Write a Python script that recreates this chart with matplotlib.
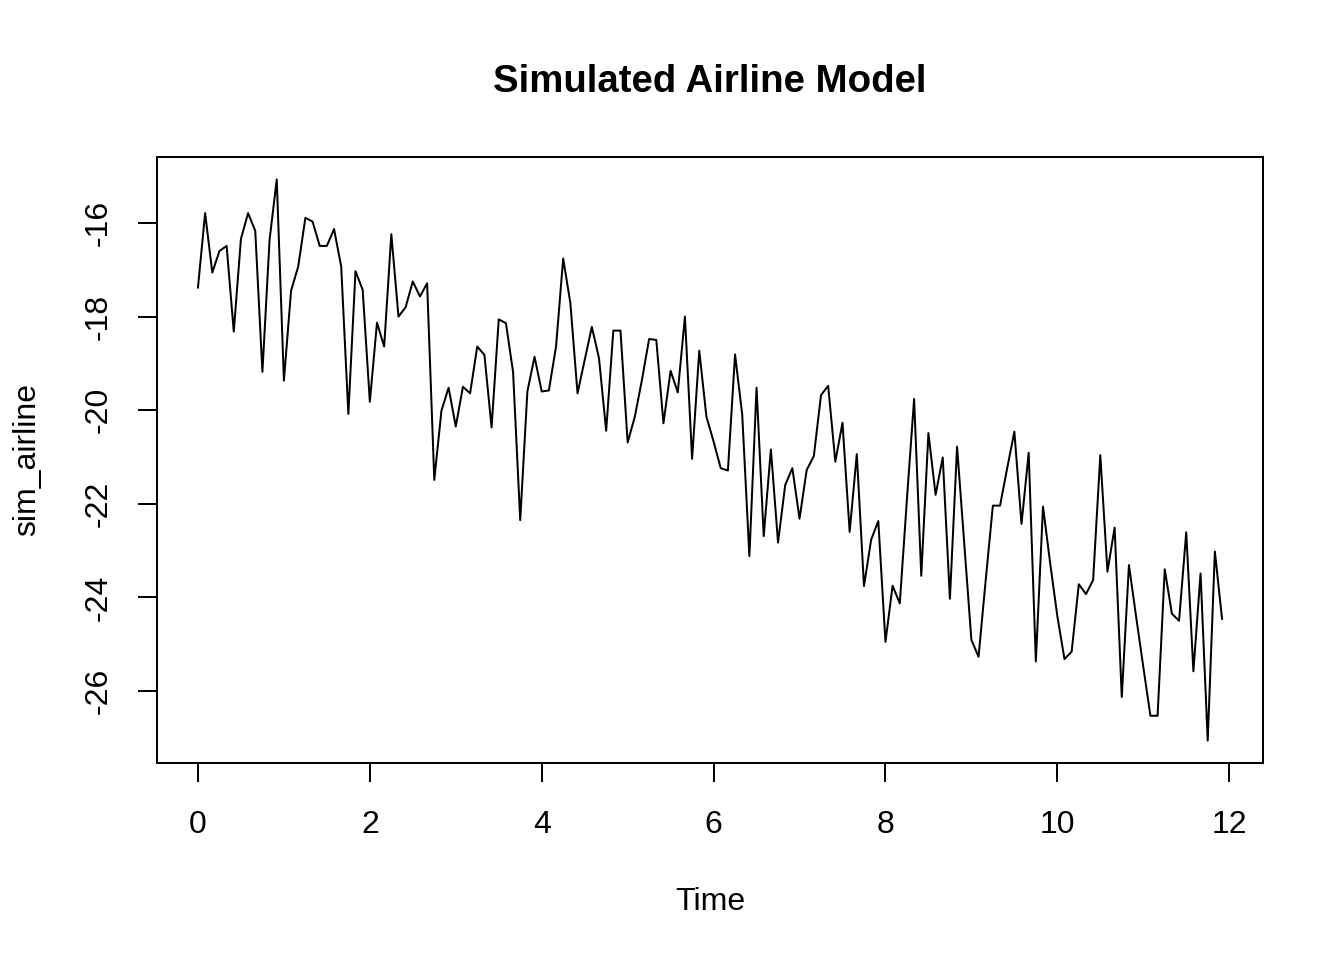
import numpy as np
import matplotlib
matplotlib.use("Agg")
import matplotlib.pyplot as plt

# monthly series, start = 0, frequency = 12
start_time = 0
frequency = 12
sim_airline = [
    -17.38, -15.79, -17.06, -16.60, -16.49, -18.32, -16.34, -15.79, -16.17, -19.18, -16.36, -15.07,
    -19.37, -17.45, -16.93, -15.89, -15.97, -16.49, -16.49, -16.13, -16.93, -20.08, -17.03, -17.43,
    -19.82, -18.13, -18.64, -16.24, -18.00, -17.80, -17.25, -17.57, -17.29, -21.49, -20.01, -19.52,
    -20.35, -19.50, -19.64, -18.64, -18.82, -20.37, -18.06, -18.14, -19.18, -22.35, -19.60, -18.86,
    -19.60, -19.58, -18.64, -16.76, -17.71, -19.64, -18.93, -18.22, -18.89, -20.44, -18.30, -18.30,
    -20.69, -20.14, -19.35, -18.48, -18.50, -20.28, -19.16, -19.62, -18.00, -21.04, -18.73, -20.14,
    -20.67, -21.24, -21.29, -18.81, -20.10, -23.12, -19.52, -22.69, -20.84, -22.83, -21.60, -21.24,
    -22.32, -21.28, -20.98, -19.68, -19.48, -21.10, -20.27, -22.60, -20.94, -23.76, -22.77, -22.37,
    -24.95, -23.75, -24.13, -21.90, -19.76, -23.54, -20.49, -21.81, -21.01, -24.03, -20.78, -22.85,
    -24.91, -25.27, -23.63, -22.04, -22.04, -21.24, -20.46, -22.43, -20.91, -25.37, -22.06, -23.27,
    -24.40, -25.32, -25.16, -23.72, -23.93, -23.63, -20.96, -23.45, -22.51, -26.13, -23.31, -24.41,
    -25.48, -26.53, -26.53, -23.40, -24.35, -24.50, -22.61, -25.58, -23.49, -27.06, -23.02, -24.46,
]
x_ticks = [0, 2, 4, 6, 8, 10, 12]
y_ticks = [-26, -24, -22, -20, -18, -16]

values = np.array(sim_airline)
time = start_time + np.arange(len(values)) / frequency

plt.rcParams['font.family'] = ['Liberation Sans', 'DejaVu Sans']

fig = plt.figure(figsize=(7, 5), dpi=192)
ax = fig.add_axes([157 / 1344, 1 - 763 / 960, (1263 - 157) / 1344, (763 - 157) / 960])

ax.plot(time, values, color='black', linewidth=0.75)

# R style 4% padding on both axes
xr = time.max() - time.min()
yr = values.max() - values.min()
ax.set_xlim(time.min() - 0.04 * xr, time.max() + 0.04 * xr)
ax.set_ylim(values.min() - 0.04 * yr, values.max() + 0.04 * yr)

ax.set_xticks(x_ticks)
ax.set_yticks(y_ticks)
ax.set_yticklabels([str(v) for v in y_ticks], rotation=90, va='center')
ax.tick_params(direction='out', length=7.2, width=0.75, labelsize=12, color='black')
ax.tick_params(axis='x', pad=10.5)
ax.tick_params(axis='y', pad=9)
for s in ax.spines.values():
    s.set_linewidth(0.75)

fig.text(710 / 1344, 1 - 82 / 960, "Simulated Airline Model", ha='center', va='center',
         fontsize=14.4, fontweight='bold')
fig.text(710 / 1344, 1 - 902 / 960, "Time", ha='center', va='center', fontsize=12)
fig.text(27 / 1344, 1 - 460 / 960, "sim_airline", ha='center', va='center', fontsize=12, rotation=90)

fig.savefig('out.png', dpi=192)
